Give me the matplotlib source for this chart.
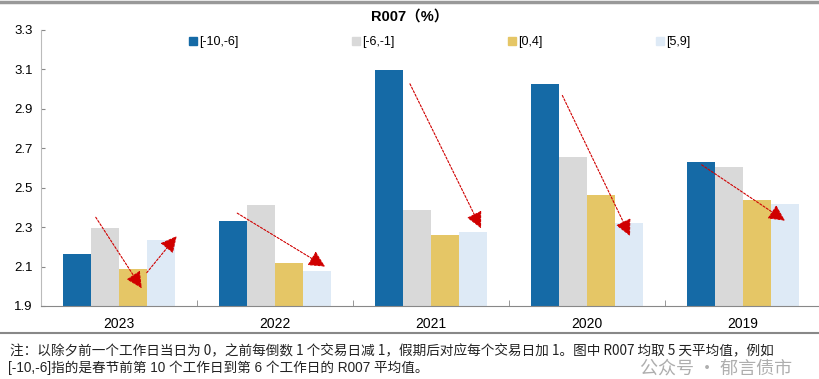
import matplotlib
matplotlib.use("Agg")
import matplotlib.pyplot as plt
import numpy as np
from matplotlib.lines import Line2D

plt.rcParams['font.family'] = ['Liberation Sans', 'Noto Sans CJK SC', 'DejaVu Sans']

years = ["2023", "2022", "2021", "2020", "2019"]
series_names = ["[-10,-6]", "[-6,-1]", "[0,4]", "[5,9]"]
v_m10_m6 = [2.164, 2.333, 3.098, 3.025, 2.629]
v_m6_m1 = [2.294, 2.413, 2.389, 2.658, 2.607]
v_0_4 = [2.086, 2.120, 2.260, 2.462, 2.437]
v_5_9 = [2.235, 2.079, 2.277, 2.321, 2.418]
colors = ["#156AA6", "#D9D9D9", "#E5C666", "#DEEAF6"]

# arrow annotations (start x, start y, end x, end y) in data units
arrows = [
    (-0.149, 2.350, 0.146, 1.990),
    (0.178, 2.069, 0.370, 2.255),
    (0.758, 2.371, 1.321, 2.100),
    (1.865, 3.027, 2.321, 2.294),
    (2.842, 2.968, 3.276, 2.255),
    (3.735, 2.616, 4.269, 2.333),
]

fig = plt.figure(figsize=(8.19, 3.79), dpi=100)
ax = fig.add_axes([41/819, 1-306/379, 780/819, 276/379])

x = np.arange(len(years))
w = 0.18
allv = [v_m10_m6, v_m6_m1, v_0_4, v_5_9]
handles = []
for i, (vals, c, name) in enumerate(zip(allv, colors, series_names)):
    ax.bar(x + (i - 1.5) * w, np.array(vals) - 1.9, bottom=1.9, width=w,
           color=c, label=name, zorder=2)
    handles.append(Line2D([], [], marker='s', linestyle='none', color=c,
                          markersize=6, label=name))

for (x0, y0, x1, y1) in arrows:
    ax.annotate("", xy=(x1, y1), xytext=(x0, y0),
                arrowprops=dict(arrowstyle="-|>,head_length=1.0,head_width=0.5",
                                color="#D00000", lw=0.8, linestyle=(0, (2, 1.5)),
                                shrinkA=0, shrinkB=0), zorder=5)

ax.set_xlim(-0.5, 4.5)
ax.set_ylim(1.9, 3.3)
ax.set_yticks(np.arange(1.9, 3.31, 0.2))
ax.set_yticklabels([f"{v:.1f}" for v in np.arange(1.9, 3.31, 0.2)], fontsize=9.5)
ax.set_xticks(x)
ax.set_xticklabels(years, fontsize=10)
ax.set_xticks(np.arange(0.5, 4.0, 1.0), minor=True)
ax.tick_params(axis='x', which='major', length=0, pad=8)
ax.tick_params(axis='x', which='minor', length=4, direction='in', color='#888888')
ax.tick_params(axis='y', length=3, direction='in', color='#888888', pad=6)
for s in ['top', 'right']:
    ax.spines[s].set_visible(False)
ax.spines['left'].set_color('#BBBBBB')
ax.spines['bottom'].set_color('#888888')

fig.text(0.5, 1-17/379, "R007（%）", fontsize=10.5, fontweight='bold', ha='center',
         va='center', family=['Liberation Sans', 'Noto Sans CJK SC'])

leg = fig.legend(handles=handles, loc='center', ncol=4, bbox_to_anchor=(0.536, 1-42/379),
                 frameon=False, fontsize=9, handletextpad=0.1, columnspacing=9.0,
                 handlelength=0.8)

# frame lines
fig.add_artist(Line2D([0, 1], [1-2/379, 1-2/379], color='#999999', lw=2.5))
fig.add_artist(Line2D([0, 1], [1-333/379, 1-333/379], color='#888888', lw=1.5))

note1 = "注：以除夕前一个工作日当日为 0，之前每倒数 1 个交易日减 1，假期后对应每个交易日加 1。图中 R007 均取 5 天平均值，例如"
note2 = "[-10,-6]指的是春节前第 10 个工作日到第 6 个工作日的 R007 平均值。"
fig.text(10/819, 1-350/379, note1, fontsize=9.8, va='center', color='#222222',
         family=['Noto Sans CJK SC', 'DejaVu Sans'])
fig.text(8/819, 1-368/379, note2, fontsize=9.8, va='center', color='#222222',
         family=['Liberation Sans', 'Noto Sans CJK SC', 'DejaVu Sans'])
fig.text(792/819, 1-369/379, "公众号 · 郁言债市", fontsize=13, va='center', ha='right',
         color='#9A9A9A', alpha=0.8, family=['Noto Sans CJK SC', 'DejaVu Sans'])

fig.savefig("out.png", dpi=100)
